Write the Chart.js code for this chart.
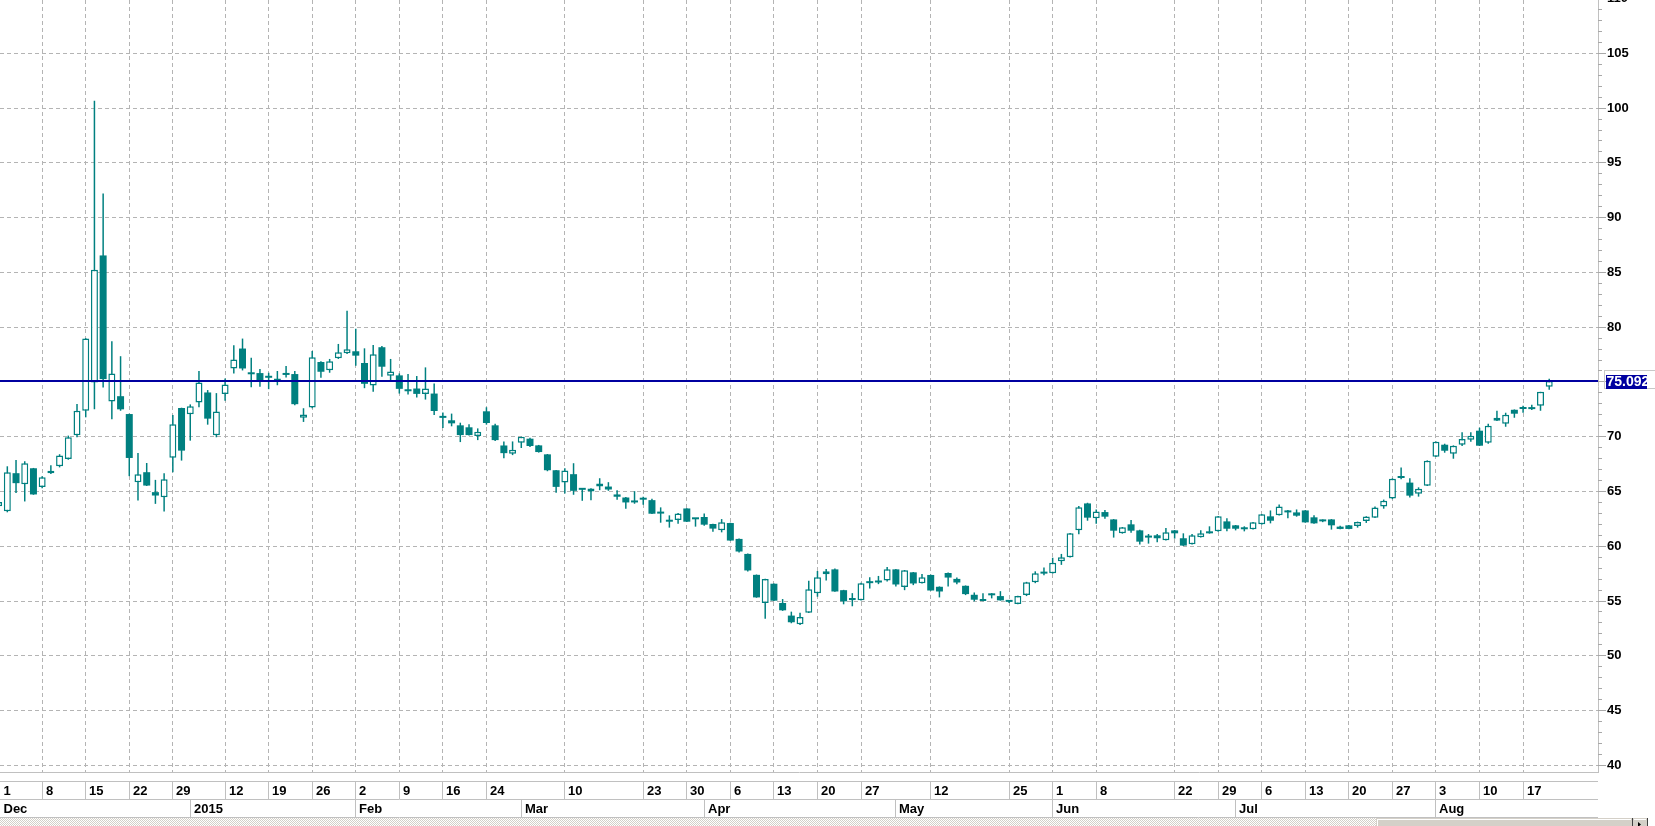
<!DOCTYPE html>
<html>
<head>
<meta charset="utf-8">
<title>Daily candles</title>
<script src="https://cdn.jsdelivr.net/npm/chart.js@4.4.1/dist/chart.umd.min.js"></script>
<style>
  html, body { margin: 0; padding: 0; background: #fff; }
  #wrap { width: 1655px; height: 826px; }
</style>
</head>
<body>
<div id="wrap"><canvas id="priceChart" width="1655" height="826"></canvas></div>
<script>
// one entry per trading session, Dec 2014 -> Aug 2015
const openPrices = [
  63.66, 63.2, 66.67, 65.67, 67.12, 65.4, 66.67, 67.3, 67.97, 70.13,
  72.37, 74.95, 86.55, 73.22, 73.7, 72.07, 65.85, 66.76, 64.94, 64.48,
  68.09, 72.62, 72.04, 73.13, 74.04, 70.13, 73.89, 76.23, 78.05, 75.84,
  75.81, 75.5, 75.14, 75.68, 75.72, 71.74, 72.66, 76.82, 76.06, 77.16,
  77.61, 77.8, 76.73, 74.68, 78.17, 75.57, 75.6, 74.2, 74.4, 73.91,
  73.94, 71.76, 71.5, 71.04, 70.86, 70.06, 72.32, 71.04, 69.2, 68.44,
  69.45, 69.82, 69.21, 68.39, 66.94, 65.82, 66.58, 65.2, 65.0, 65.45,
  65.45, 64.73, 64.45, 64.09, 64.3, 64.21, 63.02, 62.39, 62.39, 63.45,
  62.5, 62.67, 62.03, 61.45, 62.12, 60.67, 59.3, 57.39, 54.82, 56.58,
  54.82, 53.67, 52.89, 53.92, 55.72, 57.44, 57.89, 55.99, 55.06, 55.06,
  56.75, 56.84, 56.87, 57.89, 56.27, 57.62, 56.63, 57.38, 56.3, 57.56,
  57.02, 56.39, 55.57, 55.0, 55.56, 55.45, 54.96, 54.73, 55.54, 56.72,
  57.62, 57.53, 58.64, 59.0, 61.45, 63.91, 62.55, 63.12, 62.45, 61.18,
  62.0, 61.45, 60.91, 61.0, 60.55, 61.45, 60.73, 60.18, 60.82, 61.3,
  61.36, 62.27, 61.91, 61.73, 61.55, 62.0, 62.73, 62.82, 63.27, 63.09,
  63.27, 62.64, 62.36, 62.45, 61.79, 61.91, 61.85, 62.31, 62.61, 63.62,
  64.35, 66.35, 65.81, 64.8, 65.53, 68.18, 69.27, 68.45, 69.27, 69.73,
  70.55, 69.45, 71.46, 71.19, 72.46, 72.57, 72.64, 72.83, 74.56
];
const highPrices = [
  64.1, 67.3, 67.88, 67.76, 67.15, 66.4, 67.4, 68.4, 70.1, 72.98,
  79.0, 100.67, 92.2, 78.72, 77.35, 72.1, 68.52, 67.6, 66.06, 66.67,
  71.98, 72.65, 72.95, 75.99, 74.26, 73.98, 75.32, 78.35, 78.96, 77.22,
  76.18, 75.84, 76.0, 76.45, 76.0, 72.6, 77.83, 76.9, 77.1, 78.47,
  81.5, 79.85, 78.07, 78.38, 78.29, 77.1, 75.78, 75.72, 75.54, 76.33,
  74.86, 72.2, 72.11, 71.28, 71.13, 70.76, 72.69, 71.19, 69.57, 69.57,
  70.0, 69.91, 69.25, 68.42, 66.97, 67.12, 67.58, 65.25, 65.3, 66.21,
  65.85, 65.12, 64.5, 65.03, 64.52, 64.33, 63.55, 62.82, 63.03, 63.48,
  62.55, 63.0, 62.06, 62.48, 62.15, 60.7, 59.33, 57.42, 57.03, 56.6,
  55.18, 54.03, 53.92, 56.84, 57.74, 57.92, 57.98, 56.02, 55.72, 56.66,
  57.17, 57.29, 58.1, 57.92, 57.83, 57.65, 57.47, 57.41, 56.33, 57.6,
  57.14, 56.42, 55.78, 55.72, 55.72, 55.9, 55.03, 55.48, 56.75, 57.71,
  58.07, 58.95, 59.3, 61.2, 63.67, 63.97, 63.36, 63.3, 62.48, 61.76,
  62.39, 61.5, 61.12, 61.12, 61.67, 61.48, 61.18, 61.12, 61.45, 61.82,
  62.76, 62.55, 61.94, 61.82, 62.21, 62.94, 63.27, 63.82, 63.3, 63.36,
  63.3, 62.82, 62.45, 62.48, 61.88, 61.94, 62.25, 62.74, 63.62, 64.26,
  66.2, 67.2, 66.2, 65.38, 67.84, 69.57, 69.36, 69.21, 70.4, 70.4,
  70.82, 71.19, 72.37, 72.19, 72.49, 72.83, 72.92, 74.1, 75.29
];
const lowPrices = [
  63.6, 63.1, 64.85, 64.09, 64.7, 65.3, 66.6, 67.2, 67.9, 69.95,
  71.77, 72.5, 74.5, 71.6, 72.37, 66.4, 64.18, 65.5, 63.87, 63.18,
  66.76, 67.82, 69.64, 72.68, 71.1, 69.95, 73.28, 75.77, 76.05, 74.52,
  74.56, 74.34, 74.7, 75.41, 72.87, 71.35, 72.6, 75.38, 75.84, 77.1,
  77.55, 76.48, 74.43, 74.1, 75.47, 75.17, 73.94, 73.85, 73.58, 73.39,
  71.99, 70.8, 70.95, 69.51, 70.1, 69.69, 71.1, 69.6, 68.04, 68.32,
  68.97, 69.06, 68.55, 66.85, 64.88, 64.82, 64.7, 64.15, 64.21, 65.12,
  65.06, 64.24, 63.42, 63.88, 63.79, 62.95, 62.15, 61.7, 62.06, 62.22,
  61.79, 61.88, 61.33, 61.27, 60.5, 59.42, 57.7, 55.3, 53.39, 55.0,
  54.1, 52.97, 52.8, 53.9, 55.39, 56.87, 55.85, 54.7, 54.52, 55.05,
  56.14, 56.54, 56.78, 56.33, 55.99, 56.45, 56.6, 55.95, 55.33, 56.33,
  56.54, 55.54, 54.97, 54.98, 55.24, 55.04, 54.82, 54.7, 55.45, 56.63,
  57.35, 57.5, 58.3, 58.97, 61.09, 62.33, 62.06, 62.52, 60.79, 61.15,
  61.24, 60.15, 60.24, 60.36, 60.52, 60.7, 60.03, 60.15, 60.8, 61.15,
  61.33, 61.36, 61.45, 61.36, 61.52, 61.97, 62.09, 62.8, 62.55, 62.7,
  62.15, 62.06, 62.2, 61.52, 61.55, 61.55, 61.7, 62.13, 62.58, 63.43,
  64.3, 66.11, 64.44, 64.53, 65.5, 68.15, 68.54, 67.99, 69.15, 69.54,
  69.15, 69.36, 71.43, 70.91, 71.73, 72.19, 72.43, 72.37, 74.29
];
const closePrices = [
  64.03, 66.76, 65.76, 67.58, 64.73, 66.3, 66.9, 68.28, 69.95, 72.37,
  78.96, 85.25, 75.26, 75.77, 72.5, 68.06, 66.58, 65.54, 64.63, 66.12,
  71.13, 68.73, 72.77, 74.95, 71.65, 72.31, 74.77, 77.05, 76.23, 75.7,
  75.11, 75.38, 75.32, 75.64, 72.97, 72.02, 77.25, 75.93, 76.88, 77.71,
  77.98, 77.4, 74.83, 77.52, 76.39, 75.96, 74.37, 74.15, 73.91, 74.4,
  72.35, 71.72, 71.22, 70.15, 70.15, 70.46, 71.25, 69.69, 68.5, 68.81,
  70.0, 69.15, 68.6, 66.94, 65.42, 66.91, 65.06, 65.15, 65.27, 65.73,
  65.18, 64.52, 64.0, 64.0, 64.25, 62.97, 62.98, 62.24, 63.0, 62.24,
  62.46, 61.97, 61.61, 62.18, 60.52, 59.52, 57.79, 55.33, 57.0, 55.03,
  54.15, 53.06, 53.55, 56.08, 57.17, 57.71, 55.87, 54.97, 55.27, 56.63,
  56.63, 56.69, 57.89, 56.51, 57.8, 56.6, 57.17, 55.96, 55.87, 57.14,
  56.69, 55.63, 55.12, 55.18, 55.52, 55.06, 54.92, 55.45, 56.72, 57.53,
  57.5, 58.49, 59.0, 61.18, 63.55, 62.61, 63.18, 62.7, 61.42, 61.73,
  61.42, 60.42, 60.79, 60.73, 61.27, 61.18, 60.06, 61.0, 61.18, 61.18,
  62.73, 61.6, 61.6, 61.55, 62.18, 62.91, 62.33, 63.64, 63.09, 62.79,
  62.18, 62.09, 62.27, 61.91, 61.58, 61.58, 62.22, 62.71, 63.53, 64.16,
  66.17, 66.23, 64.62, 65.26, 67.81, 69.54, 68.72, 69.18, 69.79, 70.09,
  69.18, 71.0, 71.73, 72.0, 72.1, 72.53, 72.52, 74.1, 75.092
];

// bottom axis: session index where each label starts
const dayTickIndex = [0, 5, 10, 15, 20, 26, 31, 36, 41, 46, 51, 56,
  65, 74, 79, 84, 89, 94, 99, 107, 116, 121,
  126, 135, 140, 145, 150, 155, 160, 165, 170, 175];
const dayTickText = ["1", "8", "15", "22", "29", "12", "19", "26", "2", "9", "16", "24",
  "10", "23", "30", "6", "13", "20", "27", "12", "25", "1",
  "8", "22", "29", "6", "13", "20", "27", "3", "10", "17"];
const monthTickIndex = [0, 22, 41, 60, 81, 103, 121, 142, 165];
const monthTickText = ["Dec", "2015", "Feb", "Mar", "Apr", "May", "Jun", "Jul", "Aug"];
const priceTicks = [40, 45, 50, 55, 60, 65, 70, 75, 80, 85, 90, 95, 100, 105, 110];

const TEAL = "#008080";
const NAVY = "#0000a0";
const GRID = "#b4b4b4";
const FRAME = "#c0c0c0";
const FONT = "bold 13px 'Liberation Sans', Arial, sans-serif";

const lastPrice = closePrices[closePrices.length - 1];
const isUp = closePrices.map((c, i) => c >= openPrices[i]);

function crisp(p) {
  return Math.round(p - 0.5) + 0.5;
}

// last price line, price-axis minor ticks, date rows and the scrollbar strip
const chartExtras = {
  id: "chartExtras",
  afterDatasetsDraw(chart) {
    const { ctx, chartArea, scales } = chart;
    const py = Math.round(scales.y.getPixelForValue(lastPrice));
    ctx.save();
    ctx.fillStyle = NAVY;
    ctx.fillRect(chartArea.left, py - 1, chartArea.right - chartArea.left, 2);
    ctx.restore();
  },
  afterDraw(chart) {
    const { ctx, chartArea, scales: { x, y } } = chart;
    const right = chartArea.right;
    const bottom = chartArea.bottom;
    ctx.save();

    // small ticks on the price axis
    ctx.strokeStyle = "#a8a8a8";
    ctx.lineWidth = 1;
    for (let v = Math.ceil(y.min); v <= Math.floor(y.max); v++) {
      const py = crisp(y.getPixelForValue(v));
      const len = v % 5 === 0 ? 8 : 4;
      ctx.beginPath();
      ctx.moveTo(right, py);
      ctx.lineTo(right + len, py);
      ctx.stroke();
    }
    // labels above the top edge (only partly on screen)
    ctx.font = FONT;
    ctx.fillStyle = "#000";
    ctx.textBaseline = "middle";
    ctx.textAlign = "left";
    priceTicks.filter(v => v > y.max).forEach(v => {
      ctx.fillText(String(v), right + 9, y.getPixelForValue(v));
    });

    // last price tag
    const ly = Math.round(y.getPixelForValue(lastPrice));
    ctx.strokeStyle = "#c8c8c8";
    ctx.strokeRect(right + 6.5, ly - 10.5, 60, 18);
    ctx.fillStyle = NAVY;
    ctx.fillRect(right + 8, ly - 6, 41, 14);
    ctx.save();
    ctx.beginPath();
    ctx.rect(right + 8, ly - 6, 41, 14);
    ctx.clip();
    ctx.fillStyle = "#fff";
    ctx.font = "bold 14px 'Liberation Sans', Arial, sans-serif";
    ctx.fillText(lastPrice.toFixed(3), right + 8.5, ly + 1);
    ctx.restore();

    // date rows under the plot
    const rowTop = bottom + 9;
    const rowMid = rowTop + 18;
    const rowEnd = rowMid + 18;
    ctx.strokeStyle = FRAME;
    [rowTop, rowMid, rowEnd].forEach(ry => {
      ctx.beginPath();
      ctx.moveTo(chartArea.left, ry + 0.5);
      ctx.lineTo(right, ry + 0.5);
      ctx.stroke();
    });
    ctx.fillStyle = "#000";
    ctx.textBaseline = "alphabetic";
    dayTickIndex.forEach((idx, k) => {
      const px = crisp(x.getPixelForValue(idx));
      ctx.beginPath();
      ctx.moveTo(px, rowTop);
      ctx.lineTo(px, rowMid);
      ctx.stroke();
      ctx.fillText(dayTickText[k], Math.max(px, 0) + 3.5, rowTop + 14);
    });
    monthTickIndex.forEach((idx, k) => {
      const px = crisp(x.getPixelForValue(idx));
      ctx.beginPath();
      ctx.moveTo(px, rowMid);
      ctx.lineTo(px, rowEnd);
      ctx.stroke();
      ctx.fillText(monthTickText[k], Math.max(px, 0) + 3.5, rowMid + 14);
    });

    // scrollbar strip at the very bottom
    const pat = document.createElement("canvas");
    pat.width = 2;
    pat.height = 2;
    const pc = pat.getContext("2d");
    pc.fillStyle = "#ffffff";
    pc.fillRect(0, 0, 2, 2);
    pc.fillStyle = "#d4d0c8";
    pc.fillRect(0, 0, 1, 1);
    pc.fillRect(1, 1, 1, 1);
    const sy = rowEnd + 1;
    ctx.fillStyle = ctx.createPattern(pat, "repeat");
    ctx.fillRect(0, sy, 1376, chart.height - sy);
    ctx.fillStyle = "#d4d0c8";
    ctx.fillRect(1376, sy, 256, chart.height - sy);
    ctx.fillRect(1633, sy, 14, chart.height - sy);
    ctx.fillStyle = "#ffffff";
    ctx.fillRect(1377, sy + 1, 254, 1);
    ctx.fillRect(1377, sy + 1, 1, chart.height - sy);
    ctx.fillRect(1634, sy + 1, 12, 1);
    ctx.fillStyle = "#404040";
    ctx.fillRect(1632, sy, 1, chart.height - sy);
    ctx.fillRect(1647, sy, 1, chart.height - sy);
    ctx.fillStyle = "#000";
    ctx.beginPath();
    ctx.moveTo(1638, sy + 4);
    ctx.lineTo(1641, sy + 6.5);
    ctx.lineTo(1638, sy + 9);
    ctx.fill();

    ctx.restore();
  }
};

const ctx = document.getElementById("priceChart").getContext("2d");

const priceChart = new Chart(ctx, {
  type: "bar",
  data: {
    datasets: [
      {
        label: "body",
        data: openPrices.map((o, i) => ({ x: i, y: [o, closePrices[i]] })),
        backgroundColor: isUp.map(up => (up ? "#ffffff" : TEAL)),
        borderColor: TEAL,
        borderWidth: isUp.map(up => (up ? 1.5 : 0)),
        borderSkipped: false,
        grouped: false,
        barThickness: 7,
        maxBarThickness: 7,
        minBarLength: 2,
        inflateAmount: 0,
        order: 1
      },
      {
        label: "wick",
        data: lowPrices.map((l, i) => ({ x: i, y: [l, highPrices[i]] })),
        backgroundColor: TEAL,
        borderWidth: 0,
        grouped: false,
        barThickness: 1.5,
        maxBarThickness: 1.5,
        inflateAmount: 0,
        order: 2
      }
    ]
  },
  options: {
    responsive: false,
    animation: false,
    events: [],
    layout: { padding: 0 },
    plugins: {
      legend: { display: false },
      tooltip: { enabled: false }
    },
    scales: {
      x: {
        type: "linear",
        min: 0.16,
        max: 183.6,
        offset: false,
        grid: { color: GRID, offset: false, drawTicks: false },
        border: { display: true, color: FRAME, dash: [4, 3] },
        ticks: { display: false },
        afterBuildTicks: scale => {
          scale.ticks = dayTickIndex.map(v => ({ value: v }));
        },
        afterFit: scale => {
          scale.height = 54;
          scale.paddingLeft = 0;
          scale.paddingRight = 0;
        }
      },
      y: {
        position: "right",
        min: 39.39,
        max: 109.87,
        grid: { color: GRID, drawTicks: false },
        border: { display: true, color: FRAME, dash: [4, 3] },
        ticks: {
          color: "#000",
          padding: 9,
          font: { family: "'Liberation Sans', Arial, sans-serif", size: 13, weight: "bold" },
          callback: v => String(v)
        },
        afterBuildTicks: scale => {
          scale.ticks = priceTicks
            .filter(v => v >= scale.min && v <= scale.max)
            .map(v => ({ value: v }));
        },
        afterFit: scale => {
          scale.width = 57;
          scale.paddingTop = 0;
          scale.paddingBottom = 0;
        }
      }
    }
  },
  plugins: [chartExtras]
});
</script>
</body>
</html>
